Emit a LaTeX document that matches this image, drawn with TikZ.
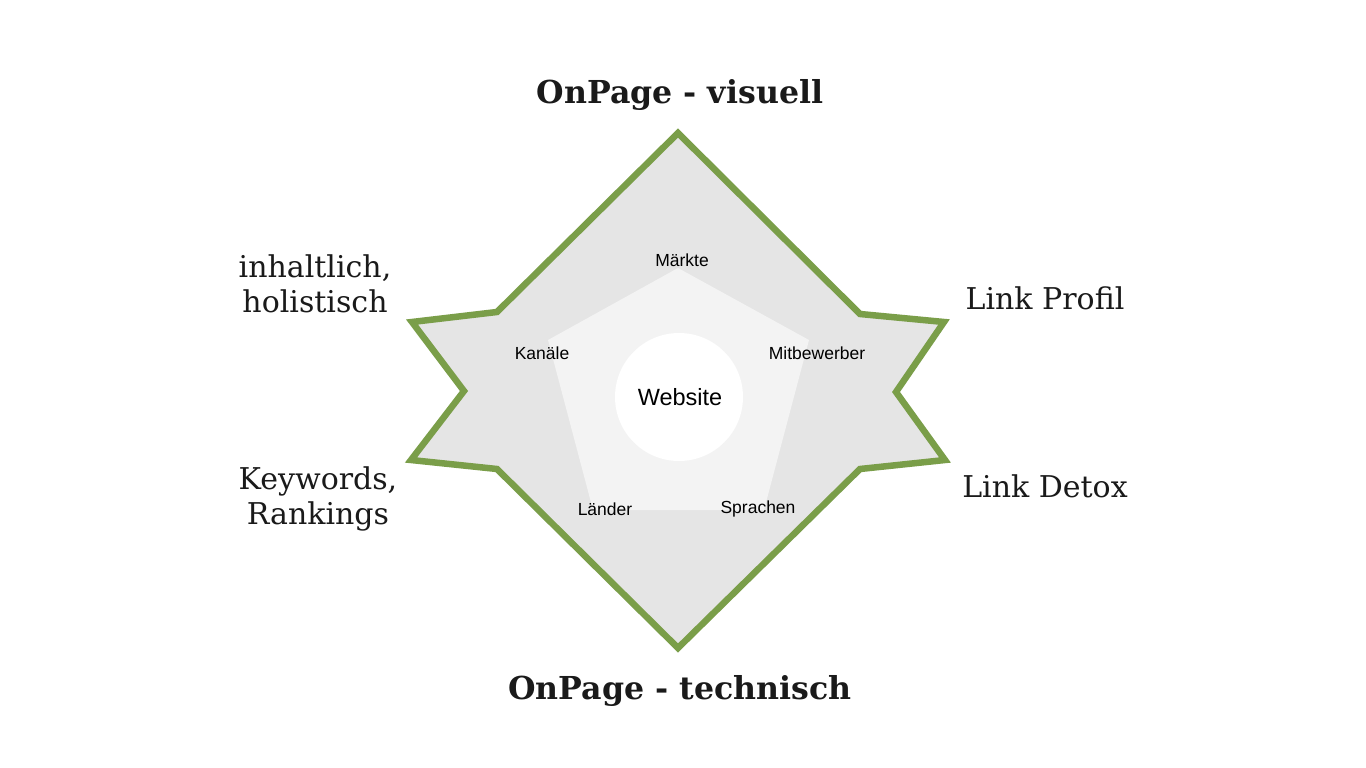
\documentclass[tikz,border=0pt]{standalone}
\usepackage{fontspec}
\setmainfont{DejaVu Serif}
\newfontfamily\labelfont{Liberation Sans}
\definecolor{stargreen}{HTML}{7A9E49}
\definecolor{starfill}{HTML}{E5E5E5}
\definecolor{pentfill}{HTML}{F3F3F3}
\definecolor{txt}{HTML}{1A1A1A}
\begin{document}
\begin{tikzpicture}[x=1pt,y=-1pt,
  bigtitle/.style={font=\fontsize{31.6}{36}\selectfont\bfseries, text=txt, inner sep=0pt, anchor=base},
  sidetext/.style={font=\fontsize{30}{35}\selectfont, text=txt, inner sep=0pt, align=center},
  smalllabel/.style={font=\labelfont\fontsize{17.5}{19}\selectfont, text=black, inner sep=0pt},
]
\useasboundingbox (0,0) rectangle (1366,768);
\fill[white] (0,0) rectangle (1366,768);
% star
\filldraw[fill=starfill, draw=stargreen, line width=6.5pt, line join=miter]
  (678,133) -- (860,314) -- (944,322) -- (896,392) -- (945,460) -- (860,469)
  -- (678,648) -- (497,469) -- (411,460) -- (464,391) -- (412,322) -- (497,312) -- cycle;
% pentagon
\fill[pentfill] (678,268) -- (809,340) -- (764,510) -- (593,510) -- (548,340) -- cycle;
% centre circle
\fill[white] (679,397) circle (64);
\node[font=\labelfont\fontsize{23.5}{25}\selectfont, inner sep=0pt] (web) at (680,397) {Website};
% small labels
\node[smalllabel] (maerkte) at (682,260) {Märkte};
\node[smalllabel] (kanaele) at (542,353) {Kanäle};
\node[smalllabel] (mitbew) at (817,353) {Mitbewerber};
\node[smalllabel] (laender) at (605,509) {Länder};
\node[smalllabel] (sprachen) at (758,509) {Sprachen};
% titles
\node[bigtitle] (top) at (680,103) {OnPage - visuell};
\node[bigtitle] (bottom) at (680,699) {OnPage - technisch};
% side texts
\node[sidetext] (inh) at (315,284) {inhaltlich,\\holistisch};
\node[sidetext] (kw) at (318,499) {Keywords,\\Rankings};
\node[sidetext] (lp) at (1045,298) {Link Profil};
\node[sidetext] (ld) at (1045,486) {Link Detox};
\end{tikzpicture}
\end{document}
